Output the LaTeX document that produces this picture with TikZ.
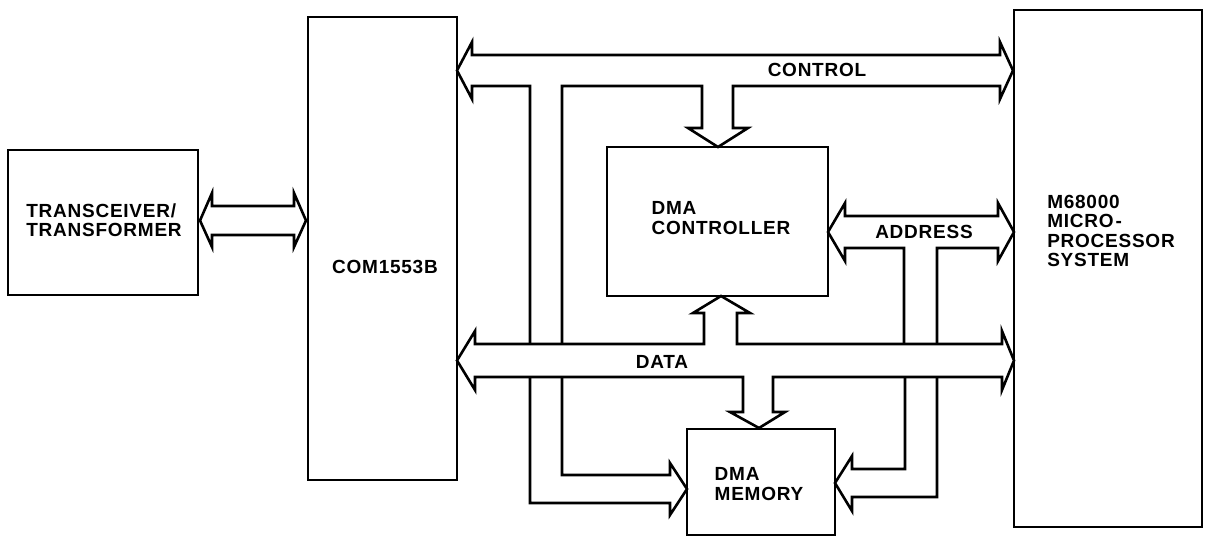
\documentclass[tikz,border=0pt]{standalone}
\usepackage{fontspec}
\setmainfont[LetterSpace=4]{Liberation Sans}
\begin{document}
\begin{tikzpicture}[x=1pt,y=-1pt,
  box/.style={draw, line width=2.6pt, rectangle, inner sep=0pt},
  bus/.style={draw, line width=2.6pt, line join=miter},
  lbl/.style={inner sep=0pt, align=left, font=\fontsize{19}{19.5}\selectfont\bfseries}]
\useasboundingbox (0,0) rectangle (1207,539);
% boxes
\node[box, minimum width=190, minimum height=145] (trx) at (103,222.5) {};
\node[box, minimum width=149, minimum height=463] (com) at (382.5,248.5) {};
\node[box, minimum width=221, minimum height=149] (ctrl) at (717.5,221.5) {};
\node[box, minimum width=148, minimum height=106] (mem) at (761,482) {};
\node[box, minimum width=188, minimum height=517] (mpu) at (1108,268.5) {};
% labels
\node[lbl] (trxl) at (104,220) {TRANSCEIVER/\\TRANSFORMER};
\node[lbl] (coml) at (385,267) {COM1553B};
\node[lbl] (ctrll) at (721,218) {DMA\\CONTROLLER};
\node[lbl] (meml) at (759,484) {DMA\\MEMORY};
\node[lbl] (mpul) at (1111,231) {M68000\\MICRO\kern2pt-\\PROCESSOR\\SYSTEM};
\node[lbl] (cbl) at (817,70) {CONTROL};
\node[lbl] (dbl) at (662,362) {DATA};
\node[lbl] (abl) at (924,232) {ADDRESS};
% transceiver <-> COM1553B
\draw[bus] (212,206) -- (294,206) -- (294,193) -- (306,220.5) -- (294,247) -- (294,235)
  -- (212,235) -- (212,247) -- (200,220.5) -- (212,193) -- cycle;
% control bus
\draw[bus] (530,344) -- (530,86) -- (472,86) -- (472,99) -- (457,70.5) -- (472,42) -- (472,55)
  -- (1000,55) -- (1000,42) -- (1013,70.5) -- (1000,99) -- (1000,86)
  -- (733,86) -- (733,128) -- (748,128) -- (718,147) -- (688,128) -- (702,128) -- (702,86)
  -- (562,86) -- (562,344);
% data bus
\draw[bus] (475,344) -- (704,344) -- (704,313) -- (693,313) -- (721,296) -- (750,313) -- (737,313)
  -- (737,344) -- (1002,344) -- (1002,331) -- (1014,360.5) -- (1002,390) -- (1002,377)
  -- (773,377) -- (773,412) -- (785,412) -- (759,428) -- (730,412) -- (743,412) -- (743,377)
  -- (475,377) -- (475,390) -- (457,360.5) -- (475,331) -- cycle;
% control channel below data bus into memory
\draw[bus] (562,377) -- (562,475) -- (670,475) -- (670,463) -- (687,489) -- (670,515)
  -- (670,503) -- (530,503) -- (530,377);
% address bus
\draw[bus] (904,344) -- (904,248) -- (845,248) -- (845,261) -- (828,232) -- (845,203) -- (845,216)
  -- (998,216) -- (998,203) -- (1014,232) -- (998,261) -- (998,248) -- (937,248) -- (937,344);
% address channel into memory
\draw[bus] (905,377) -- (905,469) -- (852,469) -- (852,456) -- (835,483) -- (852,511)
  -- (852,497) -- (937,497) -- (937,377);
\end{tikzpicture}
\end{document}
